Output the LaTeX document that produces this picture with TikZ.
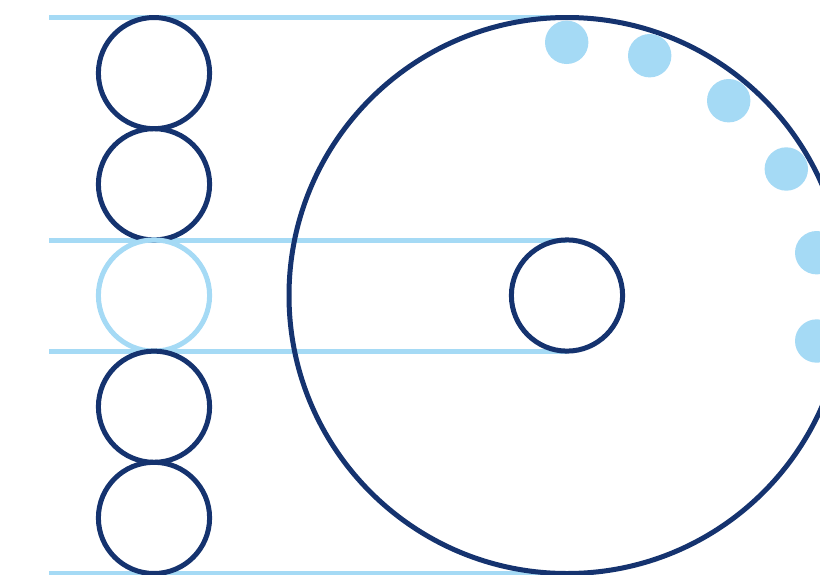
\documentclass[tikz,border=0pt]{standalone}
\definecolor{navy}{HTML}{15336F}
\definecolor{sky}{HTML}{A5DAF5}
\tikzset{
  ring/.style={circle, draw=navy, line width=5pt, minimum size=111.2pt, inner sep=0pt},
  skyring/.style={ring, draw=sky},
  bigring/.style={circle, draw=navy, line width=5pt, minimum size=556pt, inner sep=0pt},
  dot/.style={circle, fill=sky, minimum size=43.4pt, inner sep=0pt},
  rail/.style={draw=sky, line width=5pt}
}
\begin{document}
\begin{tikzpicture}[x=1pt,y=-1pt]
\useasboundingbox (0,0) rectangle (820,574);
% rails
\coordinate (l1) at (49,17.5);  \coordinate (r1) at (567,17.5);
\coordinate (l2) at (49,240.3); \coordinate (r2) at (567,240.3);
\coordinate (l3) at (49,351.2); \coordinate (r3) at (567,351.2);
\coordinate (l4) at (49,573.5); \coordinate (r4) at (567,573.5);
\path[rail] (l1) -- (r1);
\path[rail] (l2) -- (r2);
\path[rail] (l3) -- (r3);
\path[rail] (l4) -- (r4);
% left stack
\node[ring] (c1) at (154,73.1) {};
\node[ring] (c2) at (154,184.3) {};
\node[skyring] (c3) at (154,295.5) {};
\node[ring] (c4) at (154,406.7) {};
\node[ring] (c5) at (154,517.9) {};
% big circle and hub
\coordinate (ctr) at (567,295.5);
\node[bigring] (big) at (ctr) {};
\node[ring] (hub) at (ctr) {};
% dots
\node[dot] (d1) at (566.7,42.3) {};
\node[dot] (d2) at (649.7,55.7) {};
\node[dot] (d3) at (728.7,100.7) {};
\node[dot] (d4) at (786.3,169) {};
\node[dot] (d5) at (816.7,252.7) {};
\node[dot] (d6) at (816.7,341) {};
\end{tikzpicture}
\end{document}
